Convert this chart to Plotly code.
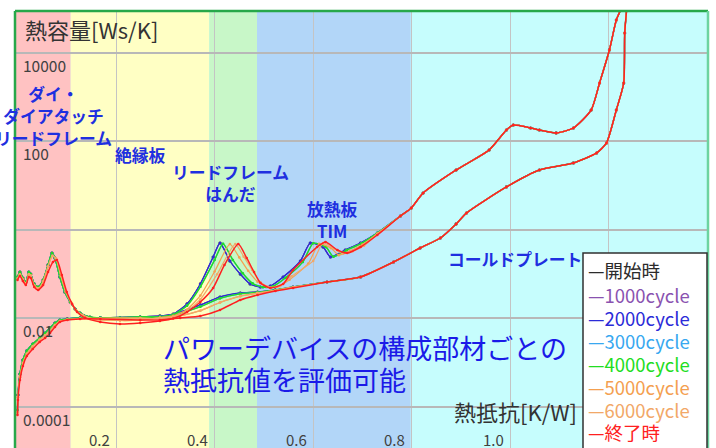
import math
import plotly.graph_objects as go

# ---------------- data ----------------
SERIES_NAMES = ["開始時", "1000cycle", "2000cycle", "3000cycle", "4000cycle", "5000cycle", "6000cycle", "終了時"]

# differential structure function (peaky curve) - head part (R 0 .. 0.25)
DIFF_HEAD_X_EARLY = [0, 0.005, 0.011, 0.017, 0.023, 0.027, 0.034, 0.042, 0.052, 0.062, 0.070, 0.076, 0.086, 0.096, 0.107, 0.117, 0.127, 0.147, 0.168, 0.208, 0.249]
DIFF_HEAD_Y_EARLY = [0.0867, 0.112, 0.0822, 0.0668, 0.112, 0.101, 0.0603, 0.0515, 0.0741, 0.162, 0.302, 0.233, 0.0867, 0.0397, 0.0236, 0.0164, 0.0133, 0.0108, 0.0103, 0.0103, 0.0108]
DIFF_HEAD_X_LATE = [0, 0.005, 0.011, 0.017, 0.023, 0.027, 0.034, 0.042, 0.052, 0.062, 0.071, 0.078, 0.088, 0.098, 0.109, 0.119, 0.132, 0.158, 0.208, 0.249]
DIFF_HEAD_Y_LATE = [0.080, 0.100, 0.076, 0.062, 0.100, 0.093, 0.056, 0.048, 0.068, 0.150, 0.260, 0.230, 0.092, 0.040, 0.0225, 0.0152, 0.0120, 0.0095, 0.0090, 0.0092]
DIFF_HEAD_X_END = [0, 0.005, 0.011, 0.017, 0.023, 0.027, 0.034, 0.042, 0.052, 0.062, 0.072, 0.080, 0.090, 0.100, 0.111, 0.121, 0.137, 0.168, 0.208, 0.249]
DIFF_HEAD_Y_END = [0.0741, 0.0912, 0.0703, 0.0571, 0.0867, 0.0822, 0.0515, 0.0441, 0.0571, 0.112, 0.189, 0.210, 0.0961, 0.0397, 0.0213, 0.0140, 0.0103, 0.00834, 0.00752, 0.00791]

# differential - peak region (R 0.29 .. 0.73), per cycle group
DIFF_PEAK_X_EARLY = [0.289, 0.316, 0.344, 0.371, 0.397, 0.411, 0.431, 0.452, 0.472, 0.493, 0.513, 0.539, 0.574, 0.594, 0.620, 0.635, 0.665, 0.696, 0.730]
DIFF_PEAK_Y_EARLY = [0.0114, 0.0126, 0.0213, 0.0603, 0.245, 0.508, 0.199, 0.101, 0.0603, 0.0515, 0.0542, 0.0867, 0.199, 0.508, 0.413, 0.245, 0.353, 0.508, 0.855]
DIFF_PEAK_X_MID = [0.289, 0.316, 0.344, 0.371, 0.400, 0.417, 0.437, 0.457, 0.477, 0.498, 0.518, 0.544, 0.579, 0.600, 0.626, 0.641, 0.668, 0.698, 0.730]
DIFF_PEAK_Y_MID = [0.0110, 0.0122, 0.0195, 0.0520, 0.210, 0.490, 0.210, 0.105, 0.0620, 0.0510, 0.0530, 0.0830, 0.190, 0.500, 0.410, 0.250, 0.350, 0.500, 0.850]
DIFF_PEAK_X_5000 = [0.289, 0.316, 0.344, 0.371, 0.400, 0.431, 0.450, 0.468, 0.487, 0.507, 0.527, 0.552, 0.590, 0.612, 0.636, 0.652, 0.675, 0.700, 0.730]
DIFF_PEAK_Y_5000 = [0.0105, 0.0115, 0.0160, 0.0330, 0.115, 0.480, 0.240, 0.120, 0.068, 0.052, 0.052, 0.075, 0.175, 0.490, 0.390, 0.270, 0.340, 0.470, 0.830]
DIFF_PEAK_X_6000 = [0.289, 0.316, 0.344, 0.371, 0.405, 0.442, 0.459, 0.476, 0.493, 0.513, 0.533, 0.556, 0.600, 0.620, 0.642, 0.660, 0.680, 0.703, 0.730]
DIFF_PEAK_Y_6000 = [0.0104, 0.0110, 0.0150, 0.0270, 0.100, 0.480, 0.250, 0.125, 0.066, 0.050, 0.054, 0.090, 0.200, 0.510, 0.380, 0.290, 0.330, 0.440, 0.800]
DIFF_PEAK_X_END = [0.289, 0.316, 0.344, 0.371, 0.397, 0.420, 0.448, 0.465, 0.480, 0.493, 0.513, 0.539, 0.559, 0.608, 0.625, 0.649, 0.669, 0.696, 0.730]
DIFF_PEAK_Y_END = [0.0088, 0.0100, 0.0140, 0.0236, 0.0489, 0.162, 0.483, 0.233, 0.112, 0.0634, 0.0489, 0.0603, 0.125, 0.413, 0.536, 0.353, 0.302, 0.413, 0.771]

# differential - tail (common)
DIFF_TAIL_X = [0.777, 0.799, 0.823, 0.890, 0.957, 0.992, 1.006, 1.041, 1.059, 1.093, 1.128, 1.164, 1.181, 1.201, 1.215, 1.224]
DIFF_TAIL_Y = [2.07, 3.14, 6.85, 22.7, 64.3, 182, 236, 202, 182, 156, 202, 515, 2100, 11700, 55700, 95000]

# cumulative structure function - head
CUM_HEAD_X = [0, 0.001, 0.005, 0.011, 0.019, 0.031, 0.045, 0.056, 0.066, 0.076, 0.086, 0.101, 0.127, 0.168, 0.249]
CUM_HEAD_Y_EARLY = [0.0000855, 0.000187, 0.000557, 0.00115, 0.00185, 0.00265, 0.00362, 0.00470, 0.00610, 0.00791, 0.00925, 0.00975, 0.0103, 0.0103, 0.0108]
CUM_HEAD_Y_LATE = [0.000075, 0.000165, 0.000470, 0.00098, 0.00160, 0.00235, 0.00328, 0.00415, 0.00540, 0.00710, 0.00870, 0.00950, 0.0100, 0.0101, 0.0102]
CUM_HEAD_Y_END = [0.0000659, 0.000144, 0.000407, 0.000845, 0.00142, 0.00205, 0.00294, 0.00362, 0.00470, 0.00643, 0.00834, 0.00925, 0.00975, 0.00975, 0.00925]

# cumulative - middle region
CUM_MID_X = [0.289, 0.330, 0.371, 0.411, 0.452, 0.487, 0.523, 0.559]
CUM_MID_Y_EARLY = [0.0108, 0.0140, 0.0202, 0.0306, 0.0377, 0.0397, 0.0441, 0.0515]
CUM_MID_Y_MID = [0.0106, 0.0130, 0.0185, 0.0285, 0.0360, 0.0390, 0.0440, 0.0515]
CUM_MID_Y_LATE = [0.0100, 0.0115, 0.0150, 0.0230, 0.0320, 0.0375, 0.0430, 0.0510]
CUM_MID_Y_END = [0.00925, 0.0103, 0.0114, 0.0156, 0.0262, 0.0340, 0.0418, 0.0489]

# cumulative - tail (common)
CUM_TAIL_X = [0.628, 0.696, 0.763, 0.817, 0.858, 0.890, 0.911, 0.992, 1.059, 1.128, 1.175, 1.195, 1.215, 1.230, 1.232, 1.236]
CUM_TAIL_Y = [0.0668, 0.0867, 0.189, 0.392, 0.659, 1.37, 2.42, 9.38, 22.7, 32.7, 55, 92.5, 515, 2100, 28300, 95000]

# region bands (thermal resistance boundaries)
BAND_EDGES = [-0.005, 0.108, 0.389, 0.486, 0.798, 1.401]

# tick labels
Y_TICK_VALUES = [10000, 100, 0.01, 0.0001]
Y_TICK_LABELS = ["10000", "100", "0.01", "0.0001"]
X_TICK_VALUES = [0.2, 0.4, 0.6, 0.8, 1.0]
X_TICK_LABELS = ["0.2", "0.4", "0.6", "0.8", "1.0"]

# ---------------- assembly ----------------
DIFF_HEADS = {
    "early": (DIFF_HEAD_X_EARLY, DIFF_HEAD_Y_EARLY),
    "late": (DIFF_HEAD_X_LATE, DIFF_HEAD_Y_LATE),
    "end": (DIFF_HEAD_X_END, DIFF_HEAD_Y_END),
}
DIFF_PEAKS = {
    "early": (DIFF_PEAK_X_EARLY, DIFF_PEAK_Y_EARLY),
    "mid": (DIFF_PEAK_X_MID, DIFF_PEAK_Y_MID),
    "5000": (DIFF_PEAK_X_5000, DIFF_PEAK_Y_5000),
    "6000": (DIFF_PEAK_X_6000, DIFF_PEAK_Y_6000),
    "end": (DIFF_PEAK_X_END, DIFF_PEAK_Y_END),
}
CUM_HEADS = {"early": CUM_HEAD_Y_EARLY, "late": CUM_HEAD_Y_LATE, "end": CUM_HEAD_Y_END}
CUM_MIDS = {"early": CUM_MID_Y_EARLY, "mid": CUM_MID_Y_MID, "late": CUM_MID_Y_LATE, "end": CUM_MID_Y_END}

# which recorded piece belongs to which series: (diff head, diff peak, cum head, cum mid)
SERIES_PIECES = {
    "開始時": ("early", "early", "early", "early"),
    "1000cycle": ("early", "early", "early", "early"),
    "2000cycle": ("early", "early", "early", "early"),
    "3000cycle": ("early", "mid", "early", "mid"),
    "4000cycle": ("early", "mid", "early", "mid"),
    "5000cycle": ("late", "5000", "late", "late"),
    "6000cycle": ("late", "6000", "late", "late"),
    "終了時": ("end", "end", "end", "end"),
}

COLORS = {
    "開始時": "#2b2b2b",
    "1000cycle": "#8a52b0",
    "2000cycle": "#2b2bd8",
    "3000cycle": "#38a8f0",
    "4000cycle": "#22dd22",
    "5000cycle": "#f4a050",
    "6000cycle": "#f2a868",
    "終了時": "#ff2020",
}
DRAW_ORDER = ["開始時", "1000cycle", "2000cycle", "3000cycle", "4000cycle", "5000cycle", "6000cycle", "終了時"]
LINE_W = {"開始時": 0.8, "1000cycle": 1.2, "2000cycle": 1.3, "3000cycle": 1.2, "4000cycle": 1.4,
          "5000cycle": 1.2, "6000cycle": 1.2, "終了時": 1.5}

fig = go.Figure()

for name in DRAW_ORDER:
    dh, dp, ch, cm = SERIES_PIECES[name]
    dx = DIFF_HEADS[dh][0] + DIFF_PEAKS[dp][0] + DIFF_TAIL_X
    dy = DIFF_HEADS[dh][1] + DIFF_PEAKS[dp][1] + DIFF_TAIL_Y
    cx = CUM_HEAD_X + CUM_MID_X + CUM_TAIL_X
    cy = CUM_HEADS[ch] + CUM_MIDS[cm] + CUM_TAIL_Y
    col = COLORS[name]
    msize = 3.2 if name == "開始時" else 2.6
    for xs, ys in ((cx, cy), (dx, dy)):
        fig.add_trace(go.Scatter(
            x=xs, y=ys, mode="lines+markers", name=name, showlegend=False,
            line=dict(color=col, width=LINE_W[name], shape="spline", smoothing=0.6),
            marker=dict(color=col, size=msize),
            hoverinfo="skip",
        ))

# ---------------- layout ----------------
W, H = 716, 448
ML, MR, MT, MB = 15, 8, 11, 0
PW, PH = W - ML - MR, H - MT - MB


def px_x(px):
    return (px - ML) / PW


def px_y(py):
    return (H - MB - py) / PH


BAND_COLORS = ["#ffc2c2", "#ffffc4", "#c8f7c8", "#b2d6f8", "#c6fdfd"]
shapes = []
for i in range(len(BAND_EDGES) - 1):
    shapes.append(dict(type="rect", xref="x", yref="paper", x0=BAND_EDGES[i], x1=BAND_EDGES[i + 1],
                       y0=0, y1=1, fillcolor=BAND_COLORS[i], line=dict(width=0), layer="below"))
# frame
shapes.append(dict(type="line", xref="paper", yref="paper", x0=0, x1=1, y0=1, y1=1,
                   line=dict(color="#27a84a", width=2.5)))
shapes.append(dict(type="line", xref="paper", yref="paper", x0=0, x1=0, y0=0, y1=1,
                   line=dict(color="#27a84a", width=2.5)))
shapes.append(dict(type="line", xref="paper", yref="paper", x0=1, x1=1, y0=0, y1=1,
                   line=dict(color="#6cd4a0", width=2.5)))
# legend box
shapes.append(dict(type="rect", xref="paper", yref="paper", x0=px_x(583), x1=px_x(707),
                   y0=px_y(470), y1=px_y(253), fillcolor="white",
                   line=dict(color="#303030", width=1.5), layer="above"))

FONT = "Noto Sans CJK JP, Noto Sans, sans-serif"
BLUE = "#1f2fe0"
annotations = []

for v, t in zip(Y_TICK_VALUES, Y_TICK_LABELS):
    annotations.append(dict(xref="paper", yref="y", x=px_x(22), y=math.log10(v), yshift=-12,
                            text=t, showarrow=False, xanchor="left", yanchor="middle", borderpad=0,
                            font=dict(family=FONT, size=15.5, color="#404040")))
for v, t in zip(X_TICK_VALUES, X_TICK_LABELS):
    annotations.append(dict(xref="x", yref="paper", x=v, y=px_y(439), xshift=-17,
                            text=t, showarrow=False, xanchor="center", yanchor="middle", borderpad=0,
                            font=dict(family=FONT, size=15, color="#404040")))

annotations.append(dict(xref="paper", yref="paper", x=px_x(24), y=px_y(29), text="熱容量[Ws/K]",
                        showarrow=False, xanchor="left", yanchor="middle", borderpad=0,
                        font=dict(family=FONT, size=22, color="#333333")))
annotations.append(dict(xref="paper", yref="paper", x=px_x(453), y=px_y(411), text="熱抵抗[K/W]",
                        showarrow=False, xanchor="left", yanchor="middle", borderpad=0,
                        font=dict(family=FONT, size=22, color="#333333")))

region_labels = [
    ("<b>ダイ・<br>ダイアタッチ<br>リードフレーム</b>", 53, 116),
    ("<b>絶縁板</b>", 140, 155),
    ("<b>リードフレーム<br>はんだ</b>", 230, 183),
    ("<b>放熱板<br>TIM</b>", 332, 220),
    ("<b>コールドプレート</b>", 515, 259),
]
for t, cx, cy in region_labels:
    annotations.append(dict(xref="paper", yref="paper", x=px_x(cx), y=px_y(cy), text=t,
                            showarrow=False, xanchor="center", yanchor="middle", borderpad=0,
                            font=dict(family=FONT, size=16.8, color=BLUE)))

annotations.append(dict(xref="paper", yref="paper", x=px_x(162), y=px_y(347),
                        text="パワーデバイスの構成部材ごとの", showarrow=False,
                        xanchor="left", yanchor="middle", borderpad=0,
                        font=dict(family=FONT, size=27, color="#1a1ae8")))
annotations.append(dict(xref="paper", yref="paper", x=px_x(162), y=px_y(379),
                        text="熱抵抗値を評価可能", showarrow=False,
                        xanchor="left", yanchor="middle", borderpad=0,
                        font=dict(family=FONT, size=27, color="#1a1ae8")))

LEGEND_Y = [270, 295, 318, 341, 364, 387, 410, 432]
for name, py in zip(SERIES_NAMES, LEGEND_Y):
    annotations.append(dict(xref="paper", yref="paper", x=px_x(587), y=px_y(py),
                            text="—" + name, showarrow=False, xanchor="left", yanchor="middle",
                            borderpad=0,
                            font=dict(family=FONT, size=18.5, color=COLORS[name])))

fig.update_layout(
    width=W, height=H,
    margin=dict(l=ML, r=MR, t=MT, b=MB, pad=0),
    paper_bgcolor="white", plot_bgcolor="#c6fdfd",
    showlegend=False,
    shapes=shapes,
    annotations=annotations,
    xaxis=dict(range=[BAND_EDGES[0], BAND_EDGES[-1]], tickmode="array",
               tickvals=[0.2, 0.4, 0.6, 0.8, 1.0, 1.2], showticklabels=False,
               showgrid=True, gridcolor="#c4c4c4", gridwidth=1, zeroline=False,
               showline=False, ticks="", fixedrange=True),
    yaxis=dict(type="log", range=[-4.927, 4.949], tickmode="array",
               tickvals=[10000, 100, 1, 0.01, 0.0001], showticklabels=False,
               showgrid=True, gridcolor="#b8b8b8", gridwidth=1.5, zeroline=False,
               showline=False, ticks="", fixedrange=True),
)

fig.write_html(
    "out.html",
    config={"displayModeBar": False},
    post_script="document.body.style.margin='0';document.body.style.overflow='hidden';",
)
